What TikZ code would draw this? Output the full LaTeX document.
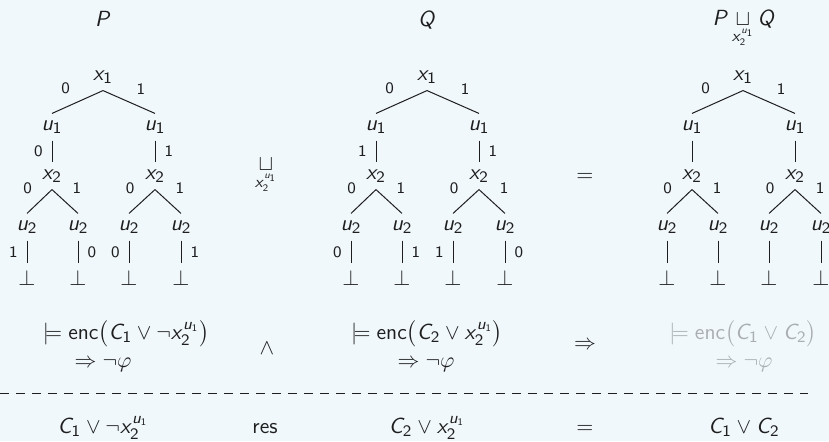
\documentclass[tikz,border=0pt]{standalone}
\usepackage{amsmath}
\usepackage{tikz}
\usetikzlibrary{positioning}
\definecolor{slideBg}{RGB}{240,248,252}
\definecolor{inkDark}{RGB}{30,30,30}
\definecolor{fadeGray}{RGB}{170,174,176}

% sans slanted letters and sans digits in math, as on a slide
\DeclareSymbolFont{sfslant}{OT1}{cmss}{m}{sl}
\DeclareSymbolFont{sfup}{OT1}{cmss}{m}{n}
\DeclareMathSymbol{x}{\mathalpha}{sfslant}{`x}
\DeclareMathSymbol{u}{\mathalpha}{sfslant}{`u}
\DeclareMathSymbol{P}{\mathalpha}{sfslant}{`P}
\DeclareMathSymbol{Q}{\mathalpha}{sfslant}{`Q}
\DeclareMathSymbol{C}{\mathalpha}{sfslant}{`C}
\DeclareMathSymbol{1}{\mathalpha}{sfup}{`1}
\DeclareMathSymbol{2}{\mathalpha}{sfup}{`2}

% one decision tree: #1 prefix, #2 x of root, #3-#4 u1 labels, #5-#8 u2 labels
\newcommand{\bddtree}[8]{%
  \begin{scope}[name prefix=#1-, shift={(#2,77)}]
    \node[var](x1)  at (0,0)     {$x_1$};
    \node[var](u1a) at (-51,50)  {$u_1$};
    \node[var](u1b) at (52,50)   {$u_1$};
    \node[var](x2a) at (-51,99)  {$x_2$};
    \node[var](x2b) at (52,99)   {$x_2$};
    \node[var](u2a) at (-76,150) {$u_2$};
    \node[var](u2b) at (-25,150) {$u_2$};
    \node[var](u2c) at (26,150)  {$u_2$};
    \node[var](u2d) at (78,150)  {$u_2$};
    \node[var](b1)  at (-76,201) {$\bot$};
    \node[var](b2)  at (-25,201) {$\bot$};
    \node[var](b3)  at (26,201)  {$\bot$};
    \node[var](b4)  at (78,201)  {$\bot$};
    \draw[edge](x1.south)--node[lab,above left=3pt]{0}(u1a.north);
    \draw[edge](x1.south)--node[lab,above right=3pt]{1}(u1b.north);
    \draw[edge](u1a)--node[lab,left=3pt]{#3}(x2a);
    \draw[edge](u1b)--node[lab,right=3pt]{#4}(x2b);
    \draw[edge](x2a.south)--node[lab,above left=3pt]{0}(u2a.north);
    \draw[edge](x2a.south)--node[lab,above right=3pt]{1}(u2b.north);
    \draw[edge](x2b.south)--node[lab,above left=3pt]{0}(u2c.north);
    \draw[edge](x2b.south)--node[lab,above right=3pt]{1}(u2d.north);
    \draw[edge](u2a)--node[lab,left=3pt]{#5}(b1);
    \draw[edge](u2b)--node[lab,right=3pt]{#6}(b2);
    \draw[edge](u2c)--node[lab,left=3pt]{#7}(b3);
    \draw[edge](u2d)--node[lab,right=3pt]{#8}(b4);
  \end{scope}}

\newcommand{\joinop}{\mathop{\sqcup}\limits_{x_2^{u_1}}}

\begin{document}
\begin{tikzpicture}[x=0.5pt,y=-0.5pt,
  font=\fontsize{11}{13}\selectfont\sffamily, text=inkDark,
  var/.style={inner sep=0.333em},
  edge/.style={draw=inkDark,line width=0.5pt},
  lab/.style={font=\fontsize{8}{9}\selectfont\sffamily,inner sep=1.5pt},
  form/.style={anchor=base,inner sep=1pt},
  faded/.style={text=fadeGray},
  rule/.style={draw=inkDark,line width=0.5pt,dash pattern=on 4.5pt off 3.5pt}
]
  \useasboundingbox (0,0) rectangle (829,441);
  \fill[slideBg] (0,0) rectangle (829,441);
  \clip (0,0) rectangle (829,441);

  % titles
  \node[form](tP)  at (103,26) {$P$};
  \node[form](tQ)  at (427,26) {$Q$};
  \node[form](tPQ) at (744,25) {$P\joinop Q$};

  % trees
  \bddtree{P}{103}{0}{1}{1}{0}{0}{1}
  \bddtree{Q}{427}{1}{1}{0}{1}{1}{0}
  \bddtree{R}{743}{}{}{}{}{}{}
  \node[inner sep=1pt](join) at (266,176) {$\joinop$};
  \node(eqT)  at (585,177) {$=$};

  % entailments
  \node[form](eP1) at (126,339) {$\models \textsf{enc}\big(C_1\vee\neg x_2^{u_1}\big)$};
  \node[form](eP2) at (103,367) {$\Rightarrow\neg\varphi$};
  \node(andOp)     at (267,348) {$\wedge$};
  \node[form](eQ1) at (427,339) {$\models \textsf{enc}\big(C_2\vee x_2^{u_1}\big)$};
  \node[form](eQ2) at (426,367) {$\Rightarrow\neg\varphi$};
  \node(impOp)     at (585,345) {$\Rightarrow$};
  \node[form,faded](eR1) at (743,339) {$\models \textsf{enc}\big(C_1\vee C_2\big)$};
  \node[form,faded](eR2) at (744,367) {$\Rightarrow\neg\varphi$};

  \coordinate(rL) at (0,393);
  \coordinate(rR) at (808,393);
  \draw[rule](rL)--(rR);

  % clauses
  \node[form](cP)  at (103,433) {$C_1\vee\neg x_2^{u_1}$};
  \node[form](res) at (265,433) {res};
  \node[form](cQ)  at (427,433) {$C_2\vee x_2^{u_1}$};
  \node[form](eqB) at (585,433) {$=$};
  \node[form](cR)  at (744,433) {$C_1\vee C_2$};
\end{tikzpicture}
\end{document}
